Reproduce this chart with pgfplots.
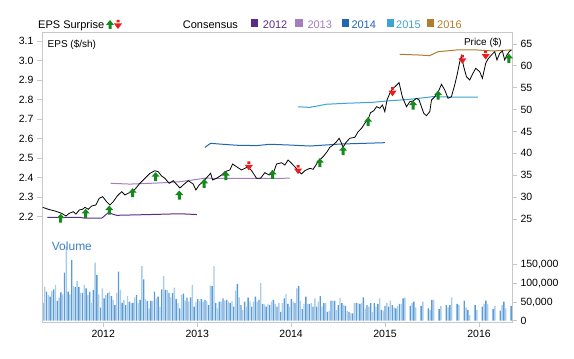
\documentclass[border=0pt]{standalone}
\usepackage{fontspec}
\setmainfont{Liberation Sans}
\usepackage{pgfplots}
\usepackage{pgfplotstable}
\pgfplotsset{compat=1.18}
\definecolor{c12}{HTML}{5B2C86}
\definecolor{c13}{HTML}{A47CC0}
\definecolor{c14}{HTML}{2265B0}
\definecolor{c15}{HTML}{3EA2D2}
\definecolor{c16}{HTML}{B07C2E}
\definecolor{framec}{HTML}{C8C8C8}
\definecolor{volD}{HTML}{5B9BD5}
\definecolor{volL}{HTML}{A9CDEB}
\definecolor{upG}{HTML}{138A1B}
\definecolor{dnR}{HTML}{EE1C1C}
\definecolor{volT}{HTML}{3C80C0}

\pgfdeclareplotmark{upar}{%
 \pgfpathmoveto{\pgfqpoint{-1.5pt}{-4.5pt}}%
 \pgfpathlineto{\pgfqpoint{1.5pt}{-4.5pt}}%
 \pgfpathlineto{\pgfqpoint{1.5pt}{0pt}}%
 \pgfpathlineto{\pgfqpoint{4pt}{0pt}}%
 \pgfpathlineto{\pgfqpoint{0pt}{4.5pt}}%
 \pgfpathlineto{\pgfqpoint{-4pt}{0pt}}%
 \pgfpathlineto{\pgfqpoint{-1.5pt}{0pt}}%
 \pgfpathclose\pgfusepathqfill}
\pgfdeclareplotmark{dnar}{%
 \pgfpathmoveto{\pgfqpoint{-1.5pt}{4.5pt}}%
 \pgfpathlineto{\pgfqpoint{1.5pt}{4.5pt}}%
 \pgfpathlineto{\pgfqpoint{1.5pt}{2pt}}%
 \pgfpathlineto{\pgfqpoint{-1.5pt}{2pt}}%
 \pgfpathclose
 \pgfpathmoveto{\pgfqpoint{-4pt}{1pt}}%
 \pgfpathlineto{\pgfqpoint{4pt}{1pt}}%
 \pgfpathlineto{\pgfqpoint{0pt}{-4.5pt}}%
 \pgfpathclose\pgfusepathqfill}

\pgfplotstableread{
x y
2011.355 27.67
2011.415 27.22
2011.486 26.83
2011.557 26.30
2011.603 25.69
2011.638 26.30
2011.681 26.67
2011.710 26.14
2011.745 27.06
2011.781 27.22
2011.805 27.67
2011.840 27.22
2011.877 27.97
2011.922 28.20
2011.957 29.73
2011.994 30.10
2012.036 28.95
2012.071 28.20
2012.106 28.95
2012.149 30.26
2012.196 31.24
2012.231 30.49
2012.277 31.01
2012.337 31.79
2012.390 33.16
2012.444 34.30
2012.497 35.45
2012.550 36.04
2012.585 35.81
2012.621 34.83
2012.656 34.30
2012.702 33.16
2012.745 33.75
2012.787 32.77
2012.816 32.09
2012.851 32.77
2012.904 33.75
2012.957 33.00
2012.986 31.63
2013.021 32.77
2013.064 33.53
2013.117 34.83
2013.143 35.45
2013.164 33.91
2013.206 34.30
2013.260 35.06
2013.295 35.81
2013.348 36.20
2013.377 37.57
2013.419 36.95
2013.472 36.20
2013.543 36.95
2013.579 36.04
2013.632 34.30
2013.674 34.30
2013.720 35.58
2013.766 35.06
2013.809 35.45
2013.845 37.57
2013.898 37.87
2013.933 37.34
2013.968 38.49
2014.004 37.73
2014.039 36.95
2014.074 36.04
2014.111 35.29
2014.146 36.04
2014.199 36.59
2014.234 36.36
2014.287 38.10
2014.340 39.24
2014.383 40.38
2014.412 41.39
2014.447 41.91
2014.483 42.67
2014.511 43.45
2014.536 42.30
2014.553 41.39
2014.582 42.44
2014.624 43.45
2014.678 43.67
2014.713 44.95
2014.749 45.73
2014.784 46.87
2014.819 47.79
2014.845 49.30
2014.880 49.75
2014.909 50.67
2014.944 50.30
2014.972 51.06
2014.997 49.53
2015.021 52.20
2015.050 53.73
2015.085 54.87
2015.114 55.40
2015.149 56.15
2015.185 52.82
2015.228 50.67
2015.263 51.81
2015.298 51.97
2015.334 52.59
2015.362 52.20
2015.387 50.67
2015.412 49.16
2015.440 48.61
2015.476 49.53
2015.494 52.20
2015.529 52.95
2015.564 53.96
2015.600 55.79
2015.635 54.49
2015.670 52.59
2015.706 52.95
2015.741 55.63
2015.766 57.91
2015.795 60.95
2015.813 62.33
2015.837 59.81
2015.866 57.53
2015.901 56.77
2015.930 58.07
2015.965 59.45
2016.007 58.67
2016.036 57.16
2016.071 60.59
2016.096 61.57
2016.132 62.49
2016.167 63.24
2016.191 61.34
2016.220 62.87
2016.249 63.40
2016.273 61.34
2016.297 62.49
2016.327 63.40
2016.345 63.63
}\pricetab

\pgfplotstableread[row sep=\\]{v\\
48000\\91000\\78000\\69000\\65000\\80000\\84000\\96000\\53000\\62000\\
76000\\71000\\129000\\199000\\78000\\71000\\163000\\93000\\90000\\107000\\
91000\\75000\\75000\\96000\\87000\\69000\\78000\\48000\\83000\\156000\\
123000\\71000\\35000\\87000\\60000\\69000\\74000\\78000\\66000\\56000\\
42000\\75000\\132000\\83000\\48000\\56000\\42000\\66000\\51000\\47000\\
48000\\63000\\69000\\47000\\56000\\147000\\111000\\58000\\53000\\33000\\
53000\\53000\\78000\\60000\\65000\\38000\\84000\\120000\\83000\\83000\\
75000\\63000\\74000\\89000\\58000\\47000\\33000\\69000\\73000\\54000\\
62000\\51000\\63000\\96000\\38000\\51000\\58000\\53000\\58000\\51000\\
56000\\53000\\42000\\94000\\93000\\147000\\48000\\33000\\51000\\51000\\
60000\\54000\\56000\\51000\\48000\\53000\\38000\\81000\\99000\\63000\\
42000\\29000\\51000\\38000\\62000\\51000\\38000\\51000\\65000\\51000\\
56000\\101000\\45000\\44000\\38000\\45000\\42000\\51000\\56000\\45000\\38000\\
48000\\24000\\47000\\60000\\72000\\45000\\38000\\58000\\51000\\48000\\
87000\\93000\\54000\\31000\\45000\\65000\\45000\\45000\\48000\\38000\\
60000\\38000\\51000\\66000\\38000\\47000\\47000\\24000\\26000\\54000\\
54000\\53000\\29000\\42000\\61000\\47000\\42000\\40000\\26000\\24000\\
20000\\20000\\47000\\48000\\47000\\45000\\47000\\63000\\33000\\42000\\
38000\\47000\\24000\\47000\\38000\\45000\\60000\\29000\\27000\\40000\\
48000\\38000\\54000\\42000\\36000\\33000\\40000\\45000\\45000\\60000\\
62000\\40000\\40000\\40000\\48000\\51000\\36000\\33000\\31000\\40000\\
51000\\40000\\40000\\33000\\29000\\56000\\56000\\42000\\48000\\31000\\
40000\\38000\\65000\\42000\\36000\\42000\\63000\\33000\\45000\\45000\\
42000\\45000\\33000\\54000\\36000\\29000\\15000\\36000\\29000\\42000\\
29000\\20000\\47000\\38000\\45000\\54000\\45000\\42000\\29000\\31000\\
40000\\47000\\51000\\27000\\42000\\51000\\33000\\36000\\38000\\40000\\
}\voltab

\pgfplotsset{base/.style={at={(42pt,37pt)}, anchor=south west, scale only axis,
 width=470pt, height=290pt,
 axis line style={framec, line width=0.8pt},
 tick style={framec, line width=0.8pt}, tick align=outside, major tick length=5pt,
 ticklabel style={font=\fontsize{10.5}{12}\selectfont},
 /pgf/number format/assume math mode=true}}

\begin{document}
\begin{tikzpicture}
\useasboundingbox (0,0) rectangle (574pt,359pt);
% volume
\begin{axis}[base, xmin=-0.5, xmax=260.5, ymin=-3495, ymax=776075,
 axis x line=none, axis y line*=right,
 ytick={0,50000,100000,150000}, scaled y ticks=false,
 yticklabel style={/pgf/number format/.cd, fixed, 1000 sep={,}},
 ybar, bar width=1.4pt, bar shift=0pt]
\addplot[fill=volD, draw=none, x filter/.expression={mod(x,2)==0 ? x : nan}] table[x expr=\coordindex, y=v]{\voltab};
\addplot[fill=volL, draw=none, x filter/.expression={mod(x,2)==1 ? x : nan}] table[x expr=\coordindex, y=v]{\voltab};
\end{axis}
% consensus EPS
\begin{axis}[base, xmin=2011.348, xmax=2016.351, ymin=1.6605, ymax=3.1461,
 axis x line=none, axis y line*=left,
 ytick={2.2,2.3,2.4,2.5,2.6,2.7,2.8,2.9,3.0,3.1},
 yticklabel style={/pgf/number format/.cd, fixed, fixed zerofill, precision=1}]
\addplot[c12, line width=1pt] coordinates {(2011.404,2.197) (2011.752,2.197) (2011.805,2.192) (2011.983,2.192) (2012.053,2.220) (2012.143,2.207) (2012.497,2.211) (2012.816,2.215) (2012.997,2.211)};
\addplot[c13, line width=1pt] coordinates {(2012.079,2.371) (2012.284,2.367) (2012.603,2.373) (2012.816,2.379) (2013.082,2.397) (2013.561,2.396) (2013.986,2.397)};
\addplot[c14, line width=1pt] coordinates {(2013.082,2.555) (2013.143,2.576) (2013.241,2.572) (2013.419,2.566) (2013.632,2.564) (2013.773,2.571) (2013.986,2.567) (2014.199,2.562) (2014.518,2.572) (2014.997,2.579)};
\addplot[c15, line width=1pt] coordinates {(2014.074,2.763) (2014.199,2.760) (2014.377,2.776) (2014.589,2.781) (2014.872,2.786) (2015.050,2.794) (2015.263,2.801) (2015.511,2.815) (2015.688,2.813) (2015.989,2.813)};
\addplot[c16, line width=1pt] coordinates {(2015.156,3.032) (2015.369,3.028) (2015.475,3.025) (2015.564,3.045) (2015.760,3.054) (2015.972,3.054) (2016.149,3.049) (2016.327,3.054) (2016.348,3.054)};
\end{axis}
% price
\begin{axis}[base, xmin=2011.348, xmax=2016.351, ymin=1.457, ymax=67.743,
 xtick={2012,2013,2014,2015,2016}, xticklabel style={/pgf/number format/1000 sep={}},
 xtick pos=bottom, ytick pos=right, ytick={25,30,35,40,45,50,55,60,65}]
\addplot[black, line width=0.8pt] table[x=x, y=y]{\pricetab};
\end{axis}
% surprises
\begin{axis}[base, xmin=2011.348, xmax=2016.351, ymin=1.6605, ymax=3.1461, hide axis, clip=false]
\addplot[only marks, mark=upar, color=upG] coordinates {(2011.547,2.192) (2011.813,2.217) (2012.064,2.234) (2012.313,2.323) (2012.557,2.405) (2012.809,2.311) (2013.074,2.371) (2013.305,2.410) (2013.802,2.417) (2014.305,2.477) (2014.553,2.538) (2014.819,2.687) (2015.298,2.772) (2015.564,2.823) (2016.319,3.011)};
\addplot[only marks, mark=dnar, color=dnR] coordinates {(2013.550,2.460) (2014.074,2.441) (2015.079,2.840) (2015.823,3.006) (2016.071,3.028)};
\end{axis}
% header
\begin{scope}[every node/.style={inner sep=0pt, font=\fontsize{11}{13}\selectfont}]
\node[anchor=base west] at (38pt,330.5pt) {EPS Surprise};
\fill[upG] (108.5pt,330pt) rectangle (111.5pt,334pt) (106pt,334pt) -- (114pt,334pt) -- (110pt,339pt) -- cycle;
\fill[dnR] (116.5pt,336.5pt) rectangle (119.5pt,339pt) (114pt,335.5pt) -- (122pt,335.5pt) -- (118pt,330pt) -- cycle;
\node[anchor=base west] at (182.7pt,330.5pt) {Consensus};
\fill[c12] (250.7pt,332.3pt) rectangle ++(7.6pt,7.4pt);
\node[anchor=base west, text=c12] at (262.7pt,330.5pt) {2012};
\fill[c13] (295.3pt,332.3pt) rectangle ++(7.6pt,7.4pt);
\node[anchor=base west, text=c13] at (307.3pt,330.5pt) {2013};
\fill[c14] (341.7pt,332.3pt) rectangle ++(7.6pt,7.4pt);
\node[anchor=base west, text=c14] at (351.3pt,330.5pt) {2014};
\fill[c15] (386.7pt,332.3pt) rectangle ++(7.6pt,7.4pt);
\node[anchor=base west, text=c15] at (396pt,330.5pt) {2015};
\fill[c16] (426.7pt,332.3pt) rectangle ++(7.6pt,7.4pt);
\node[anchor=base west, text=c16] at (437pt,330.5pt) {2016};
\node[anchor=base west, font=\fontsize{10}{12}\selectfont] at (47.5pt,311.5pt) {EPS (\$/sh)};
\node[anchor=base east, font=\fontsize{10}{12}\selectfont] at (502pt,313pt) {Price (\$)};
\node[anchor=base west, text=volT, font=\fontsize{12}{14}\selectfont] at (51.7pt,108.7pt) {Volume};
\end{scope}
\end{tikzpicture}
\end{document}
